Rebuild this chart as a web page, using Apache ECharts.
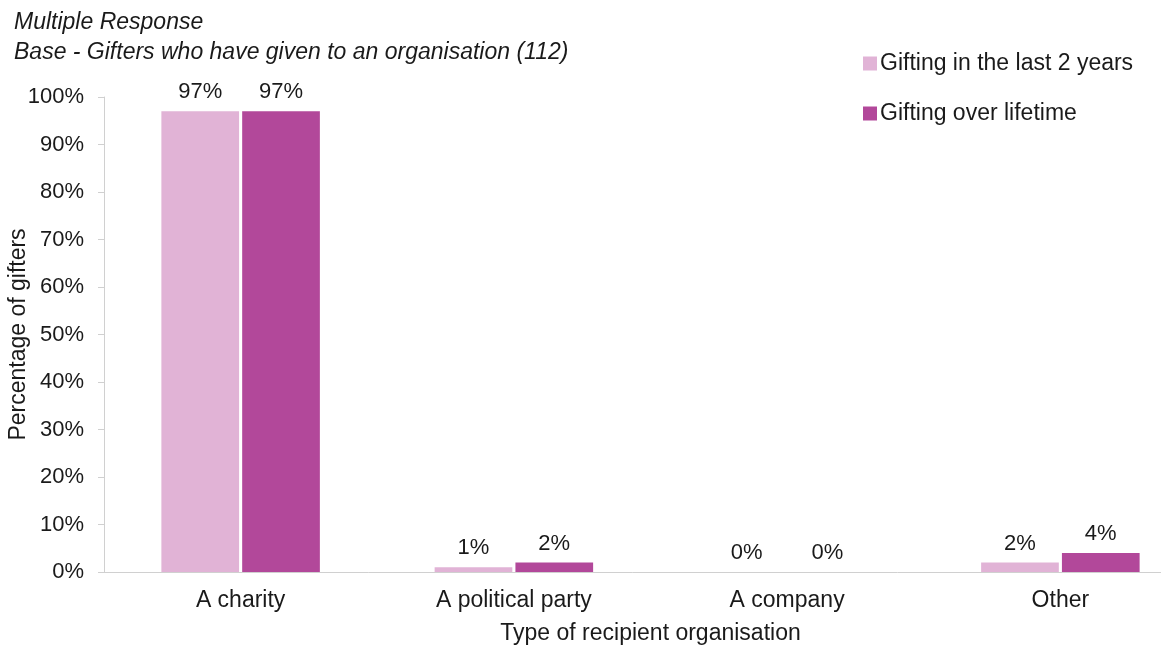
<!DOCTYPE html>
<html>
<head>
<meta charset="utf-8">
<script src="https://cdn.jsdelivr.net/npm/echarts@6/dist/echarts.min.js"></script>
<style>
html,body{margin:0;padding:0;background:#fff;}
#chart{width:1161px;height:646px;}
</style>
</head>
<body>
<div id="chart"></div>
<script>
const categories = ['A charity', 'A political party', 'A company', 'Other'];
const seriesNames = ['Gifting in the last 2 years', 'Gifting over lifetime'];
const last2Years = [97, 1, 0, 2];
const lifetime = [97, 2, 0, 4];
const colors = ['#E1B3D6', '#B2489A'];
const font = 'Liberation Sans, Arial, sans-serif';
const ink = '#1a1a1a';

const chart = echarts.init(document.getElementById('chart'));

function barSeries(name, data, color) {
  return {
    name: name,
    type: 'bar',
    data: data,
    barGap: '4%',
    barCategoryGap: '42%',
    itemStyle: { color: color },
    label: {
      show: true,
      position: 'top',
      distance: 8,
      formatter: '{c}%',
      color: ink,
      fontSize: 22,
      fontFamily: font
    }
  };
}

chart.setOption({
  animation: false,
  textStyle: { fontFamily: font },
  title: {
    text: 'Multiple Response\nBase - Gifters who have given to an organisation (112)',
    left: 9,
    top: 3,
    textStyle: {
      fontSize: 23,
      fontStyle: 'italic',
      fontWeight: 'normal',
      color: ink,
      lineHeight: 30,
      fontFamily: font
    }
  },
  legend: {
    orient: 'vertical',
    left: 858,
    top: 47,
    itemWidth: 14,
    itemHeight: 14,
    itemGap: 27,
    icon: 'rect',
    textStyle: { fontSize: 23, color: ink, fontFamily: font, padding: [0, 0, 0, -2] },
    data: seriesNames
  },
  grid: {
    left: 104,
    top: 97,
    width: 1093,
    height: 475,
    outerBoundsMode: 'none',
    containLabel: false
  },
  xAxis: {
    type: 'category',
    data: categories,
    name: 'Type of recipient organisation',
    nameLocation: 'middle',
    nameGap: 50,
    nameMoveOverlap: false,
    nameTextStyle: { fontSize: 23, color: ink, fontFamily: font },
    axisLine: { lineStyle: { color: '#d0d0d0', width: 1 } },
    axisTick: { show: false },
    axisLabel: { fontSize: 23, color: ink, margin: 17, fontFamily: font }
  },
  yAxis: {
    type: 'value',
    min: 0,
    max: 100,
    interval: 10,
    name: 'Percentage of gifters',
    nameLocation: 'middle',
    nameGap: 74,
    nameMoveOverlap: false,
    nameTextStyle: { fontSize: 23, color: ink, fontFamily: font },
    axisLine: { show: true, lineStyle: { color: '#d0d0d0', width: 1 } },
    axisTick: { show: true, inside: false, length: 6, lineStyle: { color: '#d0d0d0' } },
    splitLine: { show: false },
    axisLabel: { formatter: '{value}%', fontSize: 22, color: ink, margin: 20, fontFamily: font }
  },
  series: [
    barSeries(seriesNames[0], last2Years, colors[0]),
    barSeries(seriesNames[1], lifetime, colors[1])
  ]
});
</script>
</body>
</html>
